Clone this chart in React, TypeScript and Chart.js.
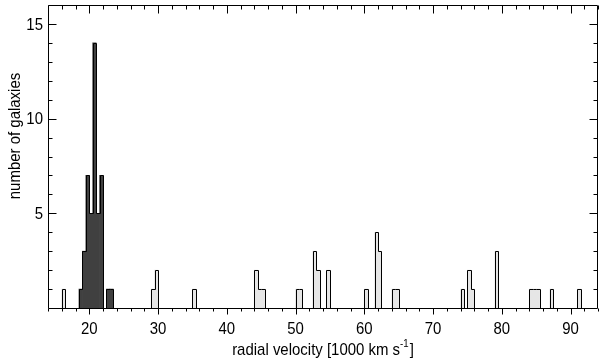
import { useEffect, useRef } from "react";
import { Chart, registerables } from "chart.js";
Chart.register(...registerables);

// histogram bins: start of each 0.5 (1000 km/s) bin and the number of galaxies in it
const darkBinStarts = [18.5, 19.0, 19.5, 20.0, 20.5, 21.0, 21.5, 22.5, 23.0];
const darkCounts = [1, 3, 7, 5, 14, 5, 7, 1, 1];
const lightBinStarts = [
  16.0, 29.0, 29.5, 35.0, 44.0, 44.5, 45.0, 50.0, 50.5, 52.5, 53.0, 54.5, 60.0,
  61.5, 62.0, 64.0, 64.5, 74.0, 75.0, 75.5, 79.0, 84.0, 84.5, 85.0, 87.0, 91.0,
];
const lightCounts = [
  1, 1, 2, 1, 2, 1, 1, 1, 1, 3, 2, 2, 1, 4, 3, 1, 1, 1, 2, 1, 3, 1, 1, 1, 1, 1,
];
const binWidth = 0.5;

const xMin = 14;
const xMax = 94;
const yMin = 0;
const yMax = 16;
const xMajorTicks = [20, 30, 40, 50, 60, 70, 80, 90];
const xMinorStep = 2;
const yMajorTicks = [5, 10, 15];
const yMinorStep = 1;

const xTitle = "radial velocity [1000 km s";
const xTitleSup = "-1";
const xTitleEnd = "]";
const yTitle = "number of galaxies";

const FONT = '"Liberation Sans", Arial, sans-serif';
const SQUEEZE = 0.88;

function drawText(ctx: any, text: string, x: number, y: number, rot = 0) {
  ctx.save();
  ctx.translate(x, y);
  if (rot) ctx.rotate(rot);
  ctx.scale(SQUEEZE, 1);
  ctx.fillText(text, 0, 0);
  ctx.restore();
}

const framePlugin = {
  id: "frame",
  afterDatasetsDraw(chart: any) {
    const { ctx, chartArea: a, scales } = chart;
    const xs = scales.x;
    const ys = scales.y;
    const px = (v: number) => xs.getPixelForValue(v);
    const py = (v: number) => ys.getPixelForValue(v);
    const L = Math.round(a.left) + 0.5;
    const R = Math.round(a.right) - 0.5;
    const T = Math.round(a.top) + 0.5;
    const B = Math.round(a.bottom) + 0.5;

    ctx.save();
    ctx.strokeStyle = "#000";
    ctx.lineWidth = 1;

    // histogram step outline
    const bins = darkBinStarts
      .map((s, i) => ({ s, c: darkCounts[i] }))
      .concat(lightBinStarts.map((s, i) => ({ s, c: lightCounts[i] })))
      .sort((p, q) => p.s - q.s);
    const rx = (v: number) => Math.round(px(v)) + 0.5;
    const ry = (v: number) => Math.round(py(v)) + 0.5;
    ctx.beginPath();
    let prevEnd: number | null = null;
    for (const b of bins) {
      const e = b.s + binWidth;
      if (prevEnd === null) {
        ctx.moveTo(rx(b.s), ry(0));
      } else if (Math.abs(b.s - prevEnd) > 1e-6) {
        ctx.lineTo(rx(prevEnd), ry(0));
        ctx.moveTo(rx(b.s), ry(0));
      }
      ctx.lineTo(rx(b.s), ry(b.c));
      ctx.lineTo(rx(e), ry(b.c));
      prevEnd = e;
    }
    if (prevEnd !== null) ctx.lineTo(rx(prevEnd), ry(0));
    ctx.stroke();

    // frame
    ctx.beginPath();
    ctx.rect(L, T, R - L, B - T);
    ctx.stroke();

    // ticks
    ctx.beginPath();
    const major = 8;
    const minor = 4;
    for (let v = xMin; v <= xMax; v += xMinorStep) {
      const isMajor = xMajorTicks.includes(v);
      const len = isMajor ? major : minor;
      const X = Math.round(px(v)) + 0.5;
      ctx.moveTo(X, B);
      ctx.lineTo(X, B + (isMajor ? 6 : 3));
      ctx.moveTo(X, T);
      ctx.lineTo(X, T + len);
    }
    for (let v = yMin + yMinorStep; v < yMax; v += yMinorStep) {
      const isMajor = yMajorTicks.includes(v);
      const len = isMajor ? major : minor;
      const Y = Math.round(py(v)) + 0.5;
      ctx.moveTo(L, Y);
      ctx.lineTo(L + len, Y);
      ctx.moveTo(R, Y);
      ctx.lineTo(R - len, Y);
    }
    ctx.stroke();

    // tick labels
    ctx.fillStyle = "#000";
    const mainFont = `17px ${FONT}`;
    const supFont = `11px ${FONT}`;
    ctx.font = mainFont;
    ctx.textAlign = "center";
    ctx.textBaseline = "alphabetic";
    for (const v of xMajorTicks) {
      drawText(ctx, String(v), px(v), 334);
    }
    ctx.textAlign = "right";
    ctx.textBaseline = "middle";
    for (const v of yMajorTicks) {
      drawText(ctx, String(v), a.left - 5, py(v) + 1);
    }

    // x title with superscript
    ctx.textAlign = "left";
    ctx.textBaseline = "alphabetic";
    ctx.font = mainFont;
    const w1 = ctx.measureText(xTitle).width * SQUEEZE;
    const w3 = ctx.measureText(xTitleEnd).width * SQUEEZE;
    ctx.font = supFont;
    const w2 = ctx.measureText(xTitleSup).width * SQUEEZE;
    const total = w1 + w2 + w3 + 1;
    const cx = (a.left + a.right) / 2;
    let x0 = cx - total / 2;
    const base = 355;
    ctx.font = mainFont;
    drawText(ctx, xTitle, x0, base);
    x0 += w1;
    ctx.font = supFont;
    drawText(ctx, xTitleSup, x0, base - 8);
    x0 += w2 + 1;
    ctx.font = mainFont;
    drawText(ctx, xTitleEnd, x0, base);

    // y title
    ctx.textAlign = "center";
    ctx.textBaseline = "alphabetic";
    ctx.font = mainFont;
    drawText(ctx, yTitle, 20, 136, -Math.PI / 2);

    ctx.restore();
  },
};

export default function App() {
  const ref = useRef<HTMLCanvasElement | null>(null);
  useEffect(() => {
    document.body.style.margin = "0";
    const canvas = ref.current;
    if (!canvas) return;
    const chart = new Chart(canvas, {
      type: "bar",
      data: {
        datasets: [
          {
            label: "dark",
            data: darkBinStarts.map((s, i) => ({ x: s + binWidth / 2, y: darkCounts[i] })),
            backgroundColor: "#404040",
            borderWidth: 0,
            grouped: false,
            barPercentage: 1,
            categoryPercentage: 1,
          } as any,
          {
            label: "light",
            data: lightBinStarts.map((s, i) => ({ x: s + binWidth / 2, y: lightCounts[i] })),
            backgroundColor: "#e6e6e6",
            borderWidth: 0,
            grouped: false,
            barPercentage: 1,
            categoryPercentage: 1,
          } as any,
        ],
      },
      options: {
        animation: false,
        responsive: false,
        devicePixelRatio: 1,
        layout: { padding: { left: 48, right: 2, top: 5, bottom: 55 } },
        plugins: { legend: { display: false }, tooltip: { enabled: false } },
        scales: {
          x: { type: "linear", min: xMin, max: xMax, offset: false, display: false },
          y: { type: "linear", min: yMin, max: yMax, display: false },
        },
      },
      plugins: [framePlugin],
    });
    return () => chart.destroy();
  }, []);
  return (
    <div style={{ width: 600, height: 363, background: "#fff" }}>
      <canvas ref={ref} width={600} height={363} style={{ display: "block" }} />
    </div>
  );
}
